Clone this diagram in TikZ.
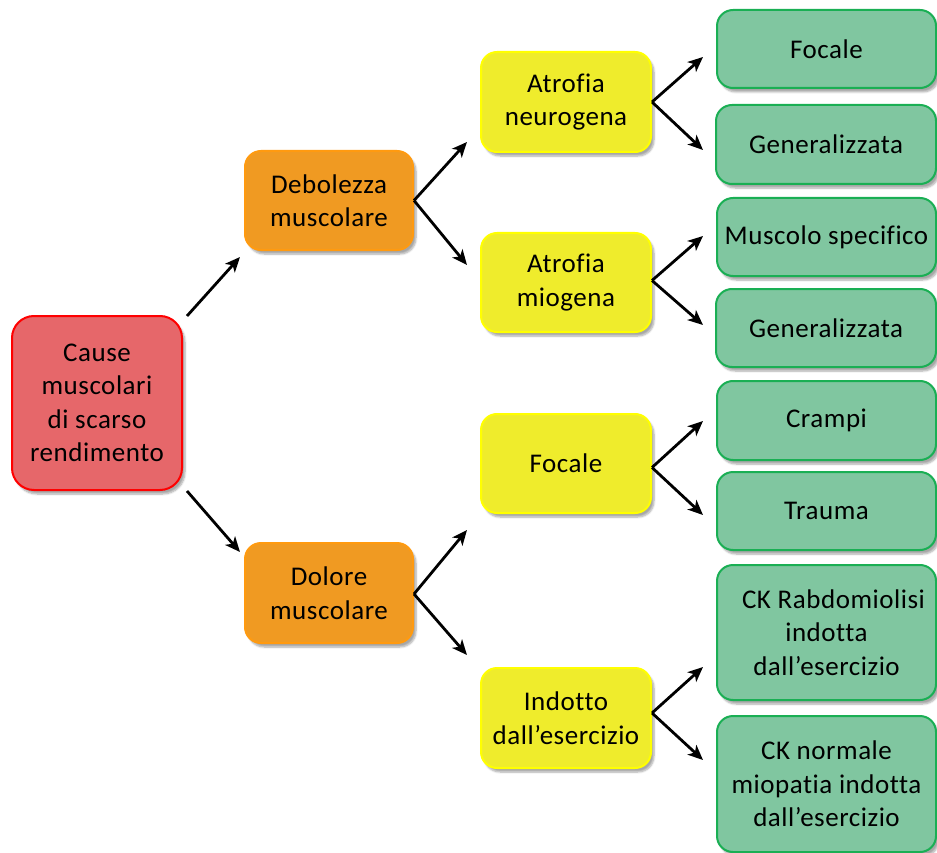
\documentclass[tikz,border=0pt]{standalone}
\usepackage{fontspec}
\setmainfont[Ligatures=NoCommon,LetterSpace=2]{Carlito}
\usetikzlibrary{arrows.meta,shadows.blur}
\definecolor{redfill}{HTML}{E6676A}
\definecolor{redline}{HTML}{FF0000}
\definecolor{orfill}{HTML}{F09A22}
\definecolor{orline}{HTML}{FF9A10}
\definecolor{yefill}{HTML}{EFEC2C}
\definecolor{yeline}{HTML}{FFFF00}
\definecolor{grfill}{HTML}{80C6A0}
\definecolor{grline}{HTML}{1AAF54}
\tikzset{
  box/.style={rectangle, rounded corners=16pt, line width=2pt, align=center,
    inner sep=0pt, font=\fontsize{27}{33.5}\selectfont, text=black,
    blur shadow={shadow xshift=3pt, shadow yshift=-4pt, shadow blur steps=6, shadow opacity=35}},
  redbox/.style={box, fill=redfill, draw=redline, rounded corners=22pt},
  orbox/.style={box, fill=orfill, draw=orline},
  yebox/.style={box, fill=yefill, draw=yeline},
  grbox/.style={box, fill=grfill, draw=grline},
  arr/.style={line width=2.8pt, -{Stealth[length=15pt,width=13pt,inset=4pt]}}
}
\begin{document}
\begin{tikzpicture}[x=1pt,y=-1pt]
\useasboundingbox (0,0) rectangle (937,853);
% level 0
\node[redbox, minimum width=170pt, minimum height=174pt] (red) at (97,403) {Cause\\muscolari\\di scarso\\rendimento};
% level 1
\node[orbox, minimum width=168pt, minimum height=99pt] (deb) at (329,200.5) {Debolezza\\muscolare};
\node[orbox, minimum width=168pt, minimum height=100pt] (dol) at (329,593) {Dolore\\muscolare};
% level 2
\node[yebox, minimum width=170pt, minimum height=100pt] (an) at (566,102) {Atrofia\\neurogena};
\node[yebox, minimum width=170pt, minimum height=99pt] (am) at (566,282.5) {Atrofia\\miogena};
\node[yebox, minimum width=170pt, minimum height=99pt] (fo) at (566,463.5) {Focale};
\node[yebox, minimum width=170pt, minimum height=100pt] (in) at (566,718) {Indotto\\dall’esercizio};
% level 3
\node[grbox, minimum width=219pt, minimum height=78pt] (g1) at (826.5,49) {Focale};
\node[grbox, minimum width=220pt, minimum height=79pt] (g2) at (826,144.5) {Generalizzata};
\node[grbox, minimum width=219pt, minimum height=78pt] (g3) at (826.5,237) {Muscolo specifico};
\node[grbox, minimum width=220pt, minimum height=78pt] (g4) at (826,328) {Generalizzata};
\node[grbox, minimum width=219pt, minimum height=79pt] (g5) at (826.5,420.5) {Crampi};
\node[grbox, minimum width=219pt, minimum height=78pt] (g6) at (826.5,511) {Trauma};
\node[grbox, minimum width=219pt, minimum height=135pt] (g7) at (826.5,632.5) {\hspace*{14pt}CK Rabdomiolisi\\indotta\\dall’esercizio};
\node[grbox, minimum width=219pt, minimum height=136pt] (g8) at (826.5,784) {CK normale\\miopatia indotta\\dall’esercizio};
% arrow tips
\coordinate (t1) at (240,257);
\coordinate (t2) at (240,552);
\coordinate (t3) at (467,142);
\coordinate (t4) at (467,265);
\coordinate (t5) at (467,530);
\coordinate (t6) at (467,655);
\coordinate (t7) at (703,57);
\coordinate (t8) at (703,150);
\coordinate (t9) at (703,236);
\coordinate (t10) at (703,325);
\coordinate (t11) at (703,421);
\coordinate (t12) at (703,515);
\coordinate (t13) at (703,667);
\coordinate (t14) at (703,760);
% connectors
\draw[arr] ([xshift=4pt,yshift=-1pt]red.north east) -- (t1);
\draw[arr] ([xshift=4pt]red.south east) -- (t2);
\draw[arr] (deb.east) -- (t3);
\draw[arr] (deb.east) -- (t4);
\draw[arr] ([yshift=-1pt]dol.east) -- (t5);
\draw[arr] ([yshift=-1pt]dol.east) -- (t6);
\draw[arr] (an.east) -- (t7);
\draw[arr] (an.east) -- (t8);
\draw[arr] ([yshift=2pt]am.east) -- (t9);
\draw[arr] ([yshift=2pt]am.east) -- (t10);
\draw[arr] ([yshift=-4pt]fo.east) -- (t11);
\draw[arr] ([yshift=-4pt]fo.east) -- (t12);
\draw[arr] ([yshift=5pt]in.east) -- (t13);
\draw[arr] ([yshift=5pt]in.east) -- (t14);
\end{tikzpicture}
\end{document}
